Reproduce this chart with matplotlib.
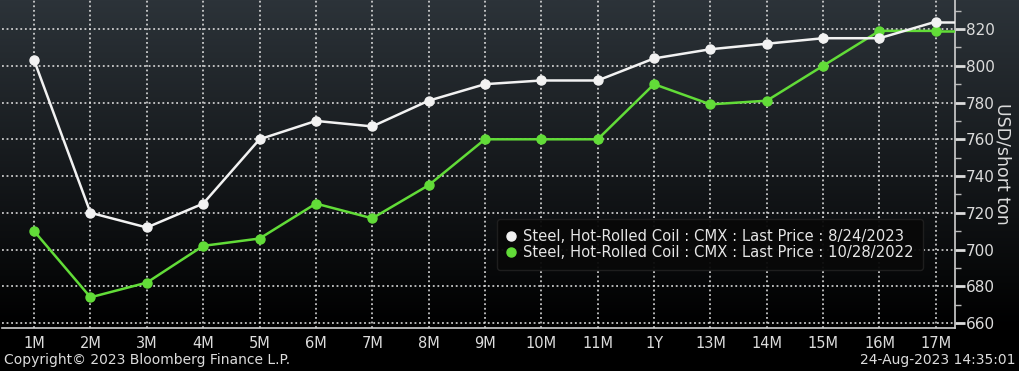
import matplotlib
matplotlib.use("Agg")
import matplotlib.pyplot as plt
import numpy as np
from matplotlib.ticker import MultipleLocator
from matplotlib.colors import LinearSegmentedColormap

tenors = ["1M", "2M", "3M", "4M", "5M", "6M", "7M", "8M", "9M", "10M", "11M",
          "1Y", "13M", "14M", "15M", "16M", "17M"]
curve_2023 = [803, 720, 712, 725, 760, 770, 767, 781, 790, 792, 792,
              804, 809, 812, 815, 815, 824]
curve_2022 = [710, 674, 682, 702, 706, 725, 717, 735, 760, 760, 760,
              790, 779, 781, 800, 819, 819]
label_2023 = "Steel, Hot-Rolled Coil : CMX : Last Price : 8/24/2023"
label_2022 = "Steel, Hot-Rolled Coil : CMX : Last Price : 10/28/2022"
yticks = [660, 680, 700, 720, 740, 760, 780, 800, 820]

W, H = 1024, 376
fig = plt.figure(figsize=(W / 100, H / 100), dpi=100)
fig.patch.set_facecolor("white")

# black panel with gradient over the plotting band
bg = fig.add_axes([0, (H - 371) / H, 1019 / W, 371 / H])
bg.set_facecolor("black")
grad = np.linspace(0, 1, 256).reshape(-1, 1)
cmap = LinearSegmentedColormap.from_list("g", ["#2c3339", "#000000"])
bg.imshow(grad, aspect="auto", cmap=cmap, extent=[0, 1, 371 - 328, 371])
bg.set_xlim(0, 1)
bg.set_ylim(0, 371)
bg.set_xticks([])
bg.set_yticks([])
for s in bg.spines.values():
    s.set_visible(False)

left, right = 2 / W, 955 / W
bottom, top = (H - 328) / H, 1.0

ax = fig.add_axes([left, bottom, right - left, top - bottom])
ax.set_facecolor("none")
x = np.arange(len(tenors))

white_c, green_c = "#f2f2f2", "#62dc38"
lw = 1.8
ax.plot(x, curve_2023, color=white_c, lw=lw, marker="o", ms=6.5, zorder=4,
        label=label_2023)
ax.plot(x, curve_2022, color=green_c, lw=lw, marker="o", ms=6.5, zorder=3,
        label=label_2022)
# flat extension to the right edge
ax.plot([x[-1], x[-1] + 0.6], [curve_2023[-1]] * 2, color=white_c, lw=lw, zorder=4)
ax.plot([x[-1], x[-1] + 0.6], [curve_2022[-1]] * 2, color=green_c, lw=lw, zorder=3)

ax.set_xlim(-0.57, 16.34)
ax.set_ylim(657.3, 835.8)

ax.set_xticks(x)
ax.set_xticklabels(tenors)
ax.set_yticks(yticks)
ax.yaxis.set_minor_locator(MultipleLocator(10))
ax.yaxis.tick_right()
ax.yaxis.set_label_position("right")

for s in ["left", "top"]:
    ax.spines[s].set_visible(False)
for s in ["right", "bottom"]:
    ax.spines[s].set_color("#d0d0d0")
    ax.spines[s].set_linewidth(1.2)

ax.grid(True, which="major", color="#e8e8e8", linestyle=(0, (1.2, 1.8)), lw=1.1)
ax.tick_params(axis="x", colors="#dcdcdc", labelsize=10.5, length=0, pad=6)
ax.tick_params(axis="y", which="major", colors="#dcdcdc", labelsize=11,
               length=7, width=2, pad=1, direction="out")
ax.tick_params(axis="y", which="minor", colors="#bbbbbb", length=4, width=1)

ax.set_ylabel("USD/short ton", rotation=270, color="#dcdcdc", fontsize=12.5,
              labelpad=12)

leg = ax.legend(loc="lower left", bbox_to_anchor=((497 - 2) / 953, (328 - 270) / 328),
                borderaxespad=0, frameon=True, facecolor="#080808",
                edgecolor="#202020", fontsize=10.6, handlelength=0.6,
                handletextpad=0.5, borderpad=0.65, labelspacing=0.1,
                markerscale=1.0)
leg.get_frame().set_alpha(0.95)
for t in leg.get_texts():
    t.set_color("#e6e6e6")
for h in leg.get_lines():
    h.set_linestyle("none")

fig.text(4 / W, 1 - 360 / H, "Copyright\u00a9 2023 Bloomberg Finance L.P.",
         color="#dcdcdc", fontsize=10, va="center", ha="left")
fig.text(1015 / W, 1 - 360 / H, "24-Aug-2023 14:35:01",
         color="#dcdcdc", fontsize=10, va="center", ha="right")

fig.savefig("out.png", dpi=100, facecolor=fig.get_facecolor())
